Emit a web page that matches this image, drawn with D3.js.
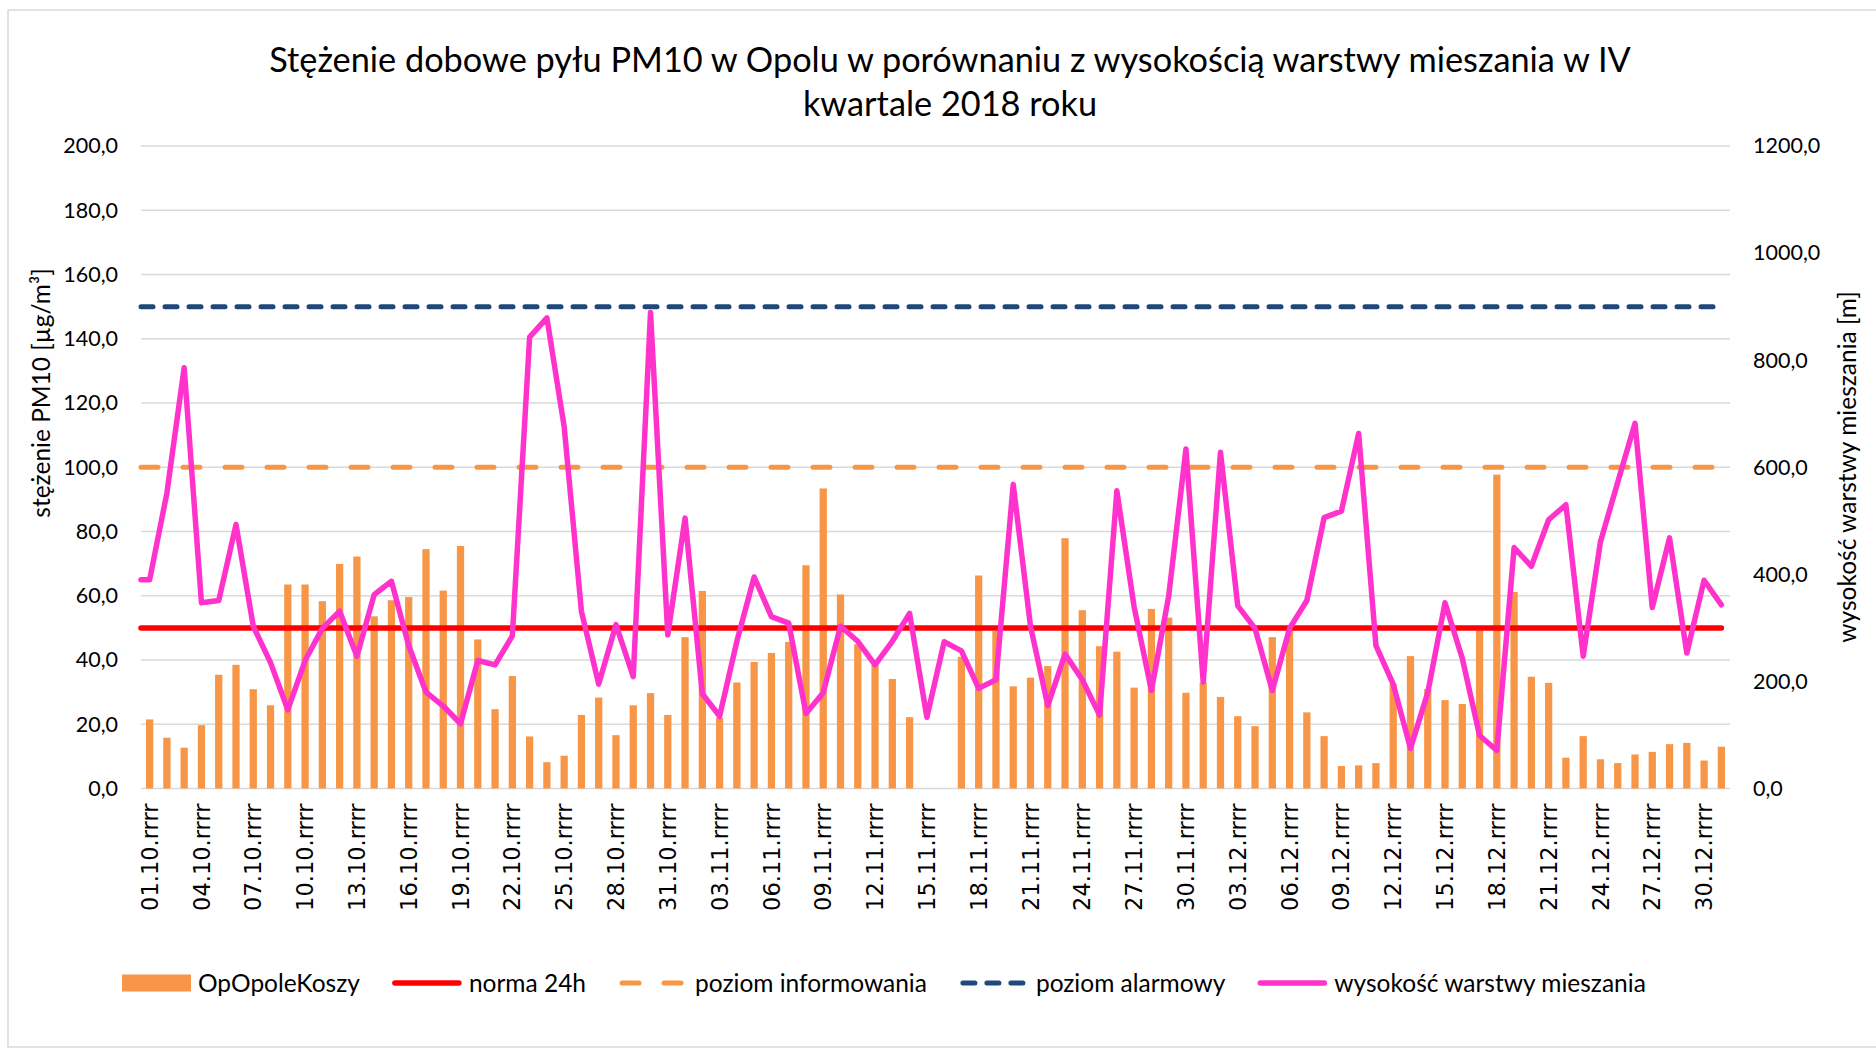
<!DOCTYPE html>
<html>
<head>
<meta charset="utf-8">
<script src="https://cdn.jsdelivr.net/npm/d3@7"></script>
<style>
  html, body { margin: 0; padding: 0; background: #fff; }
  svg { display: block; }
</style>
</head>
<body>
<svg id="chart" width="1876" height="1050"></svg>
<script>
// Daily PM10 concentration at OpOpoleKoszy [µg/m³], 01.10 – 31.12 (null = no data)
const pm10 = [
  21.5, 15.8, 12.7, 19.7, 35.4, 38.5, 30.9, 25.9, 63.5, 63.5,
  58.3, 69.9, 72.2, 53.6, 58.6, 59.6, 74.5, 61.6, 75.5, 46.4,
  24.7, 35.0, 16.2, 8.2, 10.2, 22.9, 28.3, 16.6, 25.9, 29.7,
  22.9, 47.1, 61.5, 22.0, 33.0, 39.4, 42.2, 45.6, 69.5, 93.4,
  60.4, 44.9, 38.5, 34.1, 22.2, null, null, 41.0, 66.3, 49.0,
  31.8, 34.5, 38.1, 77.9, 55.5, 44.3, 42.6, 31.4, 55.9, 53.2,
  29.8, 33.0, 28.5, 22.5, 19.4, 47.1, 49.0, 23.7, 16.3, 7.0,
  7.2, 7.9, 32.5, 41.2, 31.0, 27.5, 26.3, 49.2, 97.7, 61.2,
  34.8, 32.9, 9.6, 16.3, 9.1, 7.9, 10.6, 11.4, 13.8, 14.2,
  8.7, 13.0
];

// Mixing layer height [m]
const mixingHeight = [
  390, 552, 786, 347, 351, 493, 303, 235, 147, 239,
  299, 331, 247, 362, 387, 267, 180, 154, 121, 239,
  231, 285, 843, 879, 676, 331, 195, 306, 209, 889,
  287, 505, 177, 135, 275, 395, 321, 309, 140, 179,
  303, 275, 231, 275, 327, 133, 274, 257, 187, 203,
  568, 303, 155, 251, 203, 137, 556, 339, 183, 359,
  634, 199, 628, 341, 299, 183, 299, 351, 506, 518,
  663, 267, 195, 75, 179, 347, 243, 99, 71, 450,
  415, 502, 530, 247, 461, 572, 682, 338, 468, 253,
  389, 343
];

// Reference levels for PM10 [µg/m³]
const normLevel = 50;     // norma 24h
const infoLevel = 100;    // poziom informowania
const alarmLevel = 150;   // poziom alarmowy

// Axis ticks
const leftTicks = [0, 20, 40, 60, 80, 100, 120, 140, 160, 180, 200];
const rightTicks = [0, 200, 400, 600, 800, 1000, 1200];

// Category labels dd.mm.rrrr for Q4 2018
const days = d3.timeDay.range(new Date(2018, 9, 1), new Date(2019, 0, 1));
const categories = days.map(d => d3.timeFormat("%d.%m")(d) + ".rrrr");

const titleLines = [
  "Stężenie dobowe pyłu PM10 w Opolu w porównaniu z wysokością warstwy mieszania w IV",
  "kwartale 2018 roku"
];
const legendItems = [
  { key: "bar", label: "OpOpoleKoszy" },
  { key: "norm", label: "norma 24h" },
  { key: "info", label: "poziom informowania" },
  { key: "alarm", label: "poziom alarmowy" },
  { key: "mix", label: "wysokość warstwy mieszania" }
];

const colors = {
  bar: "#F79646",
  norm: "#FF0000",
  info: "#F79646",
  alarm: "#1F497D",
  mix: "#FF33CC",
  grid: "#D9D9D9",
  text: "#000000"
};
const styles = {
  norm: { width: 5.5, dash: null },
  info: { width: 5, dash: "17,25" },
  alarm: { width: 5, dash: "12,12" },
  mix: { width: 5.5, dash: null }
};

const svg = d3.select("#chart");
const W = 1876, H = 1050;
const plot = { left: 141, right: 1730, top: 146, bottom: 788.5 };
const uiFont = "Lato, 'Open Sans', sans-serif";

// chart area frame
svg.append("rect")
  .attr("x", 8).attr("y", 10)
  .attr("width", W).attr("height", 1037)
  .attr("fill", "#fff")
  .attr("stroke", colors.grid).attr("stroke-width", 1.5);

const x = d3.scaleBand()
  .domain(d3.range(categories.length))
  .range([plot.left, plot.right])
  .paddingInner(0).paddingOuter(0);
const cx = i => x(i) + x.bandwidth() / 2;

const yL = d3.scaleLinear().domain([0, 200]).range([plot.bottom, plot.top]);
const yR = d3.scaleLinear().domain([0, 1200]).range([plot.bottom, plot.top]);

const fmt = v => d3.format(".1f")(v).replace(".", ",");

// gridlines
svg.append("g")
  .selectAll("line")
  .data(leftTicks)
  .join("line")
  .attr("x1", plot.left).attr("x2", plot.right)
  .attr("y1", d => yL(d)).attr("y2", d => yL(d))
  .attr("stroke", colors.grid).attr("stroke-width", 1.6);

// left axis
const leftAxis = d3.axisLeft(yL).tickValues(leftTicks).tickFormat(fmt).tickSize(0).tickPadding(0);
const gL = svg.append("g").attr("transform", `translate(118,0)`).call(leftAxis);
gL.select(".domain").remove();
gL.selectAll("text")
  .attr("font-family", uiFont).attr("font-size", 21.5).attr("fill", colors.text);

// right axis
const rightAxis = d3.axisRight(yR).tickValues(rightTicks).tickFormat(fmt).tickSize(0).tickPadding(0);
const gR = svg.append("g").attr("transform", `translate(1753,0)`).call(rightAxis);
gR.select(".domain").remove();
gR.selectAll("text")
  .attr("font-family", uiFont).attr("font-size", 21.5).attr("fill", colors.text);

// bottom axis: every third day
const bottomAxis = d3.axisBottom(x)
  .tickValues(d3.range(0, categories.length, 3))
  .tickFormat(i => categories[i])
  .tickSize(0).tickPadding(0);
const gB = svg.append("g").attr("transform", `translate(0,${plot.bottom})`).call(bottomAxis);
gB.select(".domain").remove();
gB.selectAll("text")
  .attr("font-family", "'DejaVu Sans', sans-serif").attr("font-size", 22.5)
  .attr("fill", colors.text)
  .attr("text-anchor", "end")
  .attr("dy", "0.36em")
  .attr("transform", "translate(0,15) rotate(-90)")
  .attr("x", 0).attr("y", 0);

// bars
const barW = x.bandwidth() * 0.42;
svg.append("g")
  .selectAll("rect")
  .data(pm10.map((v, i) => ({ v, i })).filter(d => d.v != null))
  .join("rect")
  .attr("x", d => cx(d.i) - barW / 2)
  .attr("width", barW)
  .attr("y", d => yL(d.v))
  .attr("height", d => yL(0) - yL(d.v))
  .attr("fill", colors.bar);

// line series start at the left edge of the plot and run to the last day
function levelPath(level) {
  return d3.line()([[plot.left, yL(level)], [cx(categories.length - 1), yL(level)]]);
}
function drawLine(d, key) {
  const st = styles[key];
  const p = svg.append("path")
    .attr("d", d)
    .attr("fill", "none")
    .attr("stroke", colors[key])
    .attr("stroke-width", st.width)
    .attr("stroke-linecap", "round")
    .attr("stroke-linejoin", "round");
  if (st.dash) p.attr("stroke-dasharray", st.dash);
}
drawLine(levelPath(normLevel), "norm");
drawLine(levelPath(infoLevel), "info");
drawLine(levelPath(alarmLevel), "alarm");

const mixPts = [[plot.left, yR(mixingHeight[0])]]
  .concat(mixingHeight.map((v, i) => [cx(i), yR(v)]));
drawLine(d3.line()(mixPts), "mix");

// axis titles
svg.append("text")
  .attr("transform", `translate(41,${393}) rotate(-90)`)
  .attr("text-anchor", "middle").attr("dy", "0.35em")
  .attr("font-family", uiFont).attr("font-size", 24.5).attr("fill", colors.text)
  .text("stężenie PM10 [µg/m³]");

svg.append("text")
  .attr("transform", `translate(1847,${467}) rotate(-90)`)
  .attr("text-anchor", "middle").attr("dy", "0.35em")
  .attr("font-family", uiFont).attr("font-size", 24.5).attr("fill", colors.text)
  .text("wysokość warstwy mieszania [m]");

// title
const title = svg.append("text")
  .attr("text-anchor", "middle")
  .attr("font-family", uiFont).attr("font-size", 34.3).attr("fill", colors.text);
titleLines.forEach((t, k) => {
  title.append("tspan").attr("x", 950).attr("y", 72 + k * 44).text(t);
});

// legend
const legend = svg.append("g").attr("transform", "translate(122,983)");
let lx = 0;
legendItems.forEach(item => {
  const g = legend.append("g").attr("transform", `translate(${lx},0)`);
  const symW = 69;
  if (item.key === "bar") {
    g.append("rect").attr("x", 0).attr("y", -8.5).attr("width", symW).attr("height", 17).attr("fill", colors.bar);
  } else {
    const st = styles[item.key];
    const p = g.append("line")
      .attr("x1", item.key === "norm" || item.key === "mix" ? 2 : 3).attr("x2", symW - 3)
      .attr("y1", 0).attr("y2", 0)
      .attr("stroke", colors[item.key]).attr("stroke-width", st.width)
      .attr("stroke-linecap", "round");
    if (st.dash) p.attr("stroke-dasharray", st.dash);
  }
  const t = g.append("text")
    .attr("x", symW + 7).attr("y", 0).attr("dy", "0.35em")
    .attr("font-family", uiFont).attr("font-size", 24.5).attr("fill", colors.text)
    .text(item.label);
  lx += symW + 7 + t.node().getComputedTextLength() + 33;
});
</script>
</body>
</html>
